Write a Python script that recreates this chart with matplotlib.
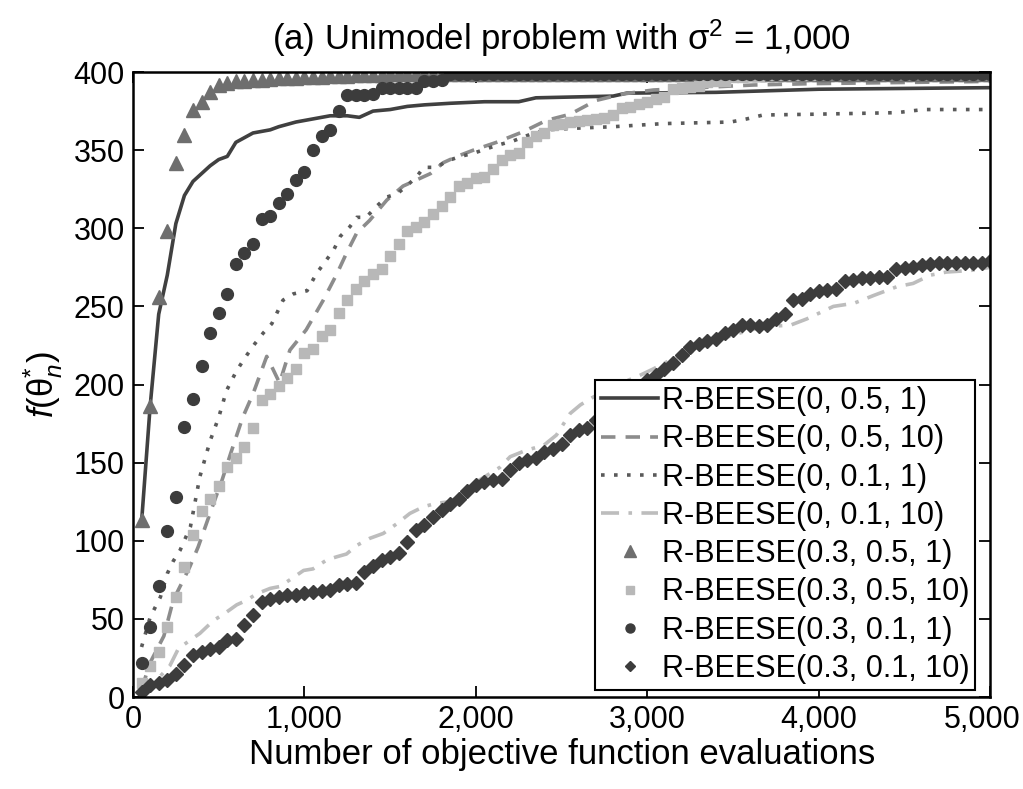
import matplotlib
matplotlib.use("Agg")
import matplotlib.pyplot as plt
from matplotlib.lines import Line2D
from matplotlib.transforms import ScaledTranslation

plt.rcParams['font.family'] = ['Liberation Sans', 'DejaVu Sans']
plt.rcParams['mathtext.fontset'] = 'custom'
plt.rcParams['mathtext.rm'] = 'Liberation Sans'
plt.rcParams['mathtext.it'] = 'Liberation Sans:italic'

# ---------------- data ----------------
labels = ["R-BEESE(0, 0.5, 1)", "R-BEESE(0, 0.5, 10)", "R-BEESE(0, 0.1, 1)",
          "R-BEESE(0, 0.1, 10)", "R-BEESE(0.3, 0.5, 1)", "R-BEESE(0.3, 0.5, 10)",
          "R-BEESE(0.3, 0.1, 1)", "R-BEESE(0.3, 0.1, 10)"]

# line series (irregular sampling)
x_solid = [50, 100, 150, 200, 250, 300, 350, 400, 450, 500, 550, 600, 650, 700, 800, 850,
           950, 1050, 1150, 1250, 1320, 1400, 1500, 1600, 1700, 1850, 2050, 2250, 2350,
           2800, 2880, 3400, 4000, 5000]
y_solid = [112, 186, 245, 270, 303, 321, 330, 335, 340, 344, 346, 355, 358, 361, 363, 365,
           368, 370, 372, 372, 371, 375, 376, 378, 379, 380, 381, 381, 383.5,
           384.6, 386.5, 387, 389, 390]

x_dash = [50, 100, 180, 235, 330, 380, 470, 520, 570, 640, 700, 780, 820, 855, 915, 1010,
          1110, 1190, 1245, 1305, 1380, 1480, 1575, 1655, 1735, 1810, 1890, 1985, 2120,
          2280, 2410, 2550, 2700, 2860, 3035, 3230, 3480, 3620, 3970, 5000]
y_dash = [5, 22, 39, 62, 83, 96, 124, 139, 156, 179, 194, 218, 209, 201, 222, 235,
          254, 271, 284, 297, 305, 318, 327, 331, 335, 342, 346, 350, 355,
          362, 369, 373, 381.8, 386, 388.5, 389.6, 391, 391.7, 392.6, 394]

x_dot = [50, 100, 160, 200, 235, 275, 335, 390, 450, 500, 545, 605, 665, 710, 760, 810,
         875, 935, 1015, 1070, 1130, 1170, 1210, 1265, 1305, 1360, 1420, 1480, 1540, 1595,
         1655, 1695, 1770, 1830, 1910, 1985, 2120, 2220, 2315, 2415, 2570, 2800, 3095,
         3485, 3580, 3675, 3970, 4455, 4610, 5000]
y_dot = [32, 51, 64, 79, 87, 94, 109, 141, 164, 179, 196, 209, 219, 226, 233, 239,
         254, 258, 260, 271, 280, 286, 295, 301, 307, 307, 314, 320, 322, 327,
         333, 339, 339, 343, 346, 348, 353, 356, 360, 363, 364, 365, 367,
         368, 370, 372.5, 373, 374, 376, 376]

x_dashdot = [50, 140, 215, 265, 335, 390, 470, 535, 605, 665, 720, 800, 855, 915, 995, 1050,
             1130, 1190, 1245, 1305, 1380, 1460, 1540, 1615, 1695, 1770, 1850, 1925, 2005,
             2140, 2200, 2295, 2395, 2470, 2550, 2610, 2685, 2765, 2840, 2940, 3035, 3135,
             3230, 3290, 3425, 3540, 3675, 3835, 3930, 4085, 4205, 4320, 4455, 4550, 4650,
             4745, 4885, 5000]
y_dashdot = [1, 11, 20, 31, 36.5, 40.7, 49, 53.5, 59, 62, 66, 69.5, 70.7, 75, 81, 82,
             87.7, 89.8, 91.5, 97, 101.5, 104.7, 111, 117.5, 121.8, 124, 125, 130, 137.8,
             147, 153.8, 158, 161, 167.7, 181.5, 187, 192, 196.5, 200.7, 205, 210, 215.7,
             219, 223, 229, 233, 237, 238, 242, 250, 252, 257, 262.6, 264.7, 270,
             272, 273, 275]

# marker series, one point every 50 evaluations
x_mark = list(range(50, 5001, 50))
y_tri = [113, 186, 256, 298, 342, 360, 376, 381, 387, 392,
         393, 394, 394, 395, 395, 395.5, 396, 396, 396.5, 397,
         397, 397, 397.5, 397.5, 397.5, 398, 398, 398, 398, 398.5,
         398.5, 398.5, 398.5, 399, 399, 399, 399, 399, 399, 399,
         399, 399, 399, 399, 399, 399, 399, 399, 399, 399,
         399, 399, 399, 399, 399, 399, 399, 399, 399, 399,
         399, 399, 399, 399, 399, 399, 399, 399, 399, 399,
         399, 399, 399, 399, 399, 399, 399, 399, 399, 399,
         399, 399, 399, 399, 399, 399, 399, 399, 399, 399,
         399, 399, 399, 399, 399, 399, 399, 399, 399, 399]
y_sq = [9, 20, 29, 45, 64, 83, 104, 119, 127, 135,
        147, 153, 160, 172, 190, 194, 199, 204, 210, 220,
        223, 231, 235, 246, 254, 261, 266, 271, 274, 282,
        290, 298, 301, 304, 309, 314, 320, 327, 329, 332,
        333, 338, 344, 347, 348, 355, 359, 361, 366, 367,
        368, 368.5, 369, 370, 370.5, 372.5, 377, 377.5, 379.5, 381,
        383, 384, 389, 390, 390.5, 391, 393.5, 394, 394.5, 397,
        397, 397.5, 397.5, 398, 398, 398, 398, 398, 398, 398.5,
        398.5, 398.5, 398.5, 398.5, 398.5, 398.5, 398.5, 398.5, 398.5, 398.5,
        398.5, 398.5, 398.5, 398.5, 398.5, 398.5, 398.5, 398.5, 398.5, 398.5]
y_circ = [21.5, 45, 71, 106, 128, 173, 191, 212, 233, 246,
          258, 277, 284, 290, 306, 308, 316, 322, 331, 336,
          350, 359, 363, 375, 385, 385, 385.5, 386, 390, 390,
          390, 390, 390, 394, 394.5, 395, 399, 399, 399, 399,
          399, 399, 399, 399, 399, 399, 399, 399, 399, 399,
          399, 399, 399, 399, 399, 399, 399, 399, 399, 399,
          399, 399, 399, 399, 399, 399, 399, 399, 399, 399,
          399, 399, 399, 399, 399, 399, 399, 399, 399, 399,
          399, 399, 399, 399, 399, 399, 399, 399, 399, 399,
          399, 399, 399, 399, 399, 399, 399, 399, 399, 399]
y_diam = [3.4, 7.7, 8.8, 10.9, 15, 20.5, 27, 29, 30.5, 32,
          36.5, 37, 46, 52.5, 61, 63, 64, 65.3, 65.5, 66.8,
          67.5, 68, 68.5, 71.7, 72.3, 72.7, 80, 84, 87.7, 89.8,
          92, 99.4, 107, 110, 115, 120, 123.5, 127, 132, 136,
          137.8, 139, 139.5, 145, 149.5, 151.6, 153, 157, 159, 162,
          167.7, 171, 172, 177, 182, 185, 190, 193, 198.6, 203,
          206, 210, 214, 219, 224, 226, 228, 229, 233, 234.6,
          238, 238, 237.5, 238, 242, 245, 254, 255, 258, 259.6,
          260.5, 261, 266.5, 267.2, 268, 268, 268.6, 269, 274, 274.5,
          275, 276.5, 277, 277.5, 278, 278, 278, 278, 278, 279]

x_ticks = [0, 1000, 2000, 3000, 4000, 5000]
x_ticklabels = ["0", "1,000", "2,000", "3,000", "4,000", "5,000"]
y_ticks = [0, 50, 100, 150, 200, 250, 300, 350, 400]

# ---------------- plot ----------------
fig = plt.figure(figsize=(10.23, 7.89), dpi=100)
ax = fig.add_axes([0.130, 0.1166, 0.838, 0.7921])

c_solid, c_dash, c_dot, c_dd = '#404040', '#8c8c8c', '#5a5a5a', '#bdbdbd'
c_tri, c_sq, c_circ, c_diam = '#6e6e6e', '#b8b8b8', '#3c3c3c', '#3c3c3c'

ls_dash = (0, (4, 2.8))
ls_dot = (0, (1, 2.6))
ls_dd = (0, (5, 2.6, 1, 2.6))

ax.plot(x_solid, y_solid, color=c_solid, lw=2.6, ls='-')
ax.plot(x_dash, y_dash, color=c_dash, lw=2.6, ls=ls_dash)
ax.plot(x_dot, y_dot, color=c_dot, lw=2.6, ls=ls_dot)
ax.plot(x_dashdot, y_dashdot, color=c_dd, lw=2.6, ls=ls_dd)
ax.plot(x_mark, y_tri, ls='none', marker='^', ms=10, color=c_tri, mec=c_tri)
ax.plot(x_mark, y_sq, ls='none', marker='s', ms=7, color=c_sq, mec=c_sq)
ax.plot(x_mark, y_circ, ls='none', marker='o', ms=8.5, color=c_circ, mec=c_circ)
ax.plot(x_mark, y_diam, ls='none', marker='D', ms=7, color=c_diam, mec=c_diam)

ax.set_xlim(0, 5000)
ax.set_ylim(0, 400)
ax.set_xticks(x_ticks)
ax.set_xticklabels(x_ticklabels)
ax.set_yticks(y_ticks)
ax.tick_params(direction='in', length=8, width=1.3, top=True, right=True,
               labelsize=22, pad=6)
for s in ax.spines.values():
    s.set_linewidth(1.8)
# keep the last x tick label inside the figure, as in the reference
last = ax.get_xticklabels()[-1]
last.set_transform(last.get_transform() + ScaledTranslation(-0.08, 0, fig.dpi_scale_trans))

ax.set_xlabel("Number of objective function evaluations", fontsize=25, labelpad=2)
ax.set_ylabel(r"$f(\mathrm{\theta}_{n}^{*})$", fontsize=25, labelpad=6)
ax.set_title(r"(a) Unimodel problem with σ$^{2}$ = 1,000", fontsize=25, pad=16)

handles = [
    Line2D([], [], color=c_solid, lw=2.6, ls='-'),
    Line2D([], [], color=c_dash, lw=2.6, ls=ls_dash),
    Line2D([], [], color=c_dot, lw=2.6, ls=ls_dot),
    Line2D([], [], color=c_dd, lw=2.6, ls=ls_dd),
    Line2D([], [], ls='none', marker='^', ms=8, color=c_tri),
    Line2D([], [], ls='none', marker='s', ms=6, color=c_sq),
    Line2D([], [], ls='none', marker='o', ms=6.5, color=c_circ),
    Line2D([], [], ls='none', marker='D', ms=5.5, color=c_diam),
]
leg = ax.legend(handles, labels, loc='lower right', bbox_to_anchor=(0.9825, 0.0112),
                borderaxespad=0, fontsize=22, frameon=True, fancybox=False,
                edgecolor='black', framealpha=1, handlelength=1.85, handletextpad=0.12,
                labelspacing=0.27, borderpad=0.2)
leg.get_frame().set_linewidth(1.5)

fig.savefig("out.png", dpi=100)
